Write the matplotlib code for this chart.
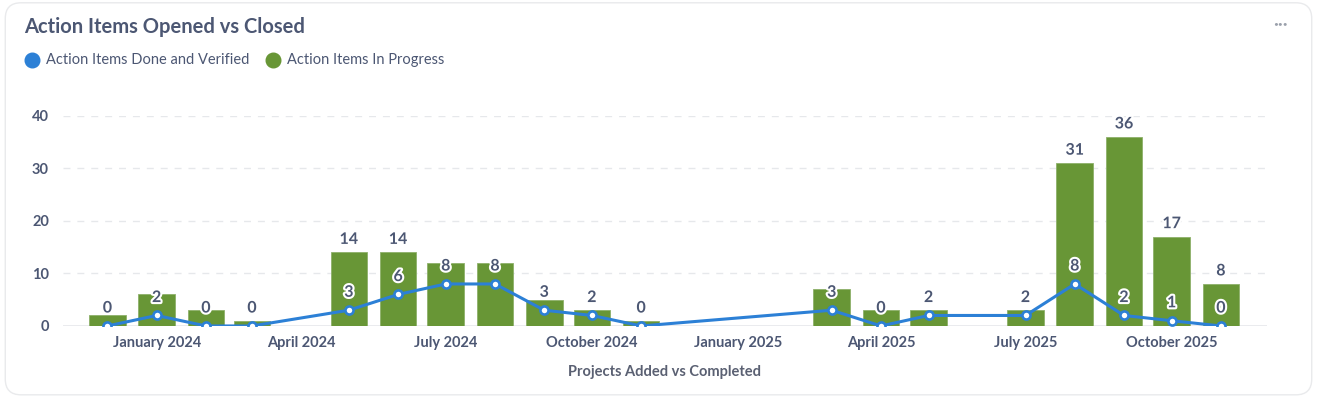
import numpy as np
import pandas as pd
import matplotlib
matplotlib.use("Agg")
import matplotlib.pyplot as plt
import matplotlib.dates as mdates
import matplotlib.patheffects as pe
from matplotlib.lines import Line2D
from matplotlib.patches import FancyBboxPatch

# data (months with data only)
months = ["2023-12", "2024-01", "2024-02", "2024-03", "2024-05", "2024-06",
          "2024-07", "2024-08", "2024-09", "2024-10", "2024-11", "2025-03",
          "2025-04", "2025-05", "2025-07", "2025-08", "2025-09", "2025-10",
          "2025-11"]
in_progress = [2, 6, 3, 1, 14, 14, 12, 12, 5, 3, 1, 7, 3, 3, 3, 31, 36, 17, 8]
done_verified = [0, 2, 0, 0, 3, 6, 8, 8, 3, 2, 0, 3, 0, 2, 2, 8, 2, 1, 0]
tick_months = ["2024-01", "2024-04", "2024-07", "2024-10",
               "2025-01", "2025-04", "2025-07", "2025-10"]
y_ticks = [0, 10, 20, 30, 40]

title = "Action Items Opened vs Closed"
legend_labels = ["Action Items Done and Verified", "Action Items In Progress"]
x_label = "Projects Added vs Completed"

BLUE = "#2C80D6"
GREEN = "#689636"
TEXT = "#4C5773"
GRID = "#E6E8EB"

plt.rcParams["font.family"] = ["Lato", "DejaVu Sans"]

dates = pd.to_datetime(months)
xnum = mdates.date2num(dates)

fig = plt.figure(figsize=(13.17, 3.98), dpi=100)

# card background
card = FancyBboxPatch((0.004, 0.008), 0.992, 0.985,
                      boxstyle="round,pad=0,rounding_size=0.012",
                      transform=fig.transFigure, facecolor="white",
                      edgecolor="#E9EAEC", linewidth=1.0, zorder=-10,
                      mutation_aspect=3.3)
fig.patches.append(card)

ax = fig.add_axes([0.0478, 0.181, 0.9142, 0.5276])
ax.set_facecolor("none")

ax.bar(xnum, in_progress, width=23, color=GREEN, edgecolor="#8DB06A",
       linewidth=0.6, zorder=2)
ax.plot(xnum, done_verified, color=BLUE, linewidth=2.2, zorder=3)
ax.scatter(xnum, done_verified, s=34, facecolor="white", edgecolor=BLUE,
           linewidth=1.9, zorder=4)

stroke = [pe.withStroke(linewidth=3, foreground="white")]

# line value labels
for x, v in zip(xnum, done_verified):
    ax.annotate(str(v), (x, v), xytext=(0, 7.5), textcoords="offset points",
                ha="center", va="bottom", fontsize=11.5, fontweight="bold",
                color=TEXT, path_effects=stroke, zorder=6,
                annotation_clip=False)

# bar value labels where they don't crowd the line labels
for x, b, v in zip(xnum, in_progress, done_verified):
    if b - v >= 5:
        ax.annotate(str(b), (x, b), xytext=(0, 4), textcoords="offset points",
                    ha="center", va="bottom", fontsize=11.5, fontweight="bold",
                    color=TEXT, path_effects=stroke, zorder=6,
                    annotation_clip=False)

ax.set_xlim(mdates.date2num(pd.Timestamp("2023-11-03")),
            mdates.date2num(pd.Timestamp("2025-11-30")))
ax.set_ylim(0, 40)

ax.set_xticks(mdates.date2num(pd.to_datetime(tick_months)))
ax.set_xticklabels(pd.to_datetime(tick_months).strftime("%B %Y"))
ax.set_yticks(y_ticks)
for lab in ax.get_xticklabels() + ax.get_yticklabels():
    lab.set_fontweight("bold")
    lab.set_color(TEXT)
    lab.set_fontsize(10.5)
ax.tick_params(axis="both", length=0)
ax.tick_params(axis="x", pad=7)
ax.tick_params(axis="y", pad=10)

for y in y_ticks[1:]:
    ax.axhline(y, color=GRID, linewidth=1, linestyle=(0, (5, 5)), zorder=0)
ax.axhline(0, color=GRID, linewidth=1.2, zorder=1)
for s in ax.spines.values():
    s.set_visible(False)

ax.set_xlabel(x_label, fontsize=10.5, fontweight="bold", color="#5A6072",
              labelpad=11)

# title, legend, menu dots
fig.text(24 / 1317, 1 - 27 / 398, title, fontsize=14.5, fontweight="bold",
         color=TEXT, va="center", ha="left")
fig.text(1280 / 1317, 1 - 24 / 398, "\u2022\u2022\u2022", fontsize=6,
         color="#9AA0AB", va="center", ha="center")

lx = 32
ly = 1 - 60 / 398
for label, col in zip(legend_labels, [BLUE, GREEN]):
    fig.add_artist(Line2D([lx / 1317], [ly], marker="o", markersize=10.5,
                          color=col, linestyle="none",
                          transform=fig.transFigure))
    t = fig.text((lx + 14) / 1317, ly, label, fontsize=10.5,
                 color=TEXT, va="center", ha="left")
    fig.canvas.draw()
    w = t.get_window_extent().width
    lx = lx + 14 + w + 24

fig.savefig("out.png", dpi=100)
